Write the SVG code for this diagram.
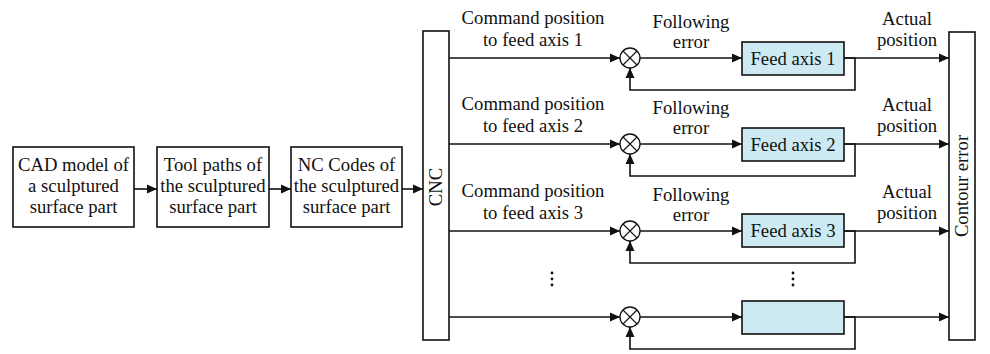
<svg xmlns="http://www.w3.org/2000/svg" width="990" height="354" viewBox="0 0 990 354">
<style>
text{font-family:"Liberation Serif","Times New Roman",serif;font-size:18.7px;fill:#111;text-anchor:middle}
.lb text{font-size:18.7px}
.b{fill:#fff;stroke:#111;stroke-width:1.6}
.f{fill:#cde9f1;stroke:#111;stroke-width:1.6}
.l{fill:none;stroke:#111;stroke-width:1.6}
.d{fill:#111}
</style>
<defs>
<marker id="a" viewBox="0 0 10 10" refX="10" refY="5" markerWidth="10" markerHeight="10" markerUnits="userSpaceOnUse" orient="auto">
<path d="M0,0.5 L10,5 L0,9.5 z" fill="#111"/>
</marker>
<g id="sum"><circle cx="0" cy="0" r="10" fill="#fff" stroke="#111" stroke-width="1.3"/><path d="M-7,-7 L7,7 M7,-7 L-7,7" stroke="#111" stroke-width="1.1"/></g>
</defs>
<rect width="990" height="354" fill="#fff"/>
<g id="cad" class="lb"><rect class="b" x="13" y="147" width="121" height="80"/><text x="73.5" y="171">CAD model of</text><text x="73.5" y="192">a sculptured</text><text x="73.5" y="213">surface part</text></g>
<g id="toolpaths" class="lb"><rect class="b" x="157" y="147" width="112" height="80"/><text x="213" y="171">Tool paths of</text><text x="213" y="192">the sculptured</text><text x="213" y="213">surface part</text></g>
<g id="nccodes" class="lb"><rect class="b" x="291" y="147" width="111" height="80"/><text x="346.5" y="171">NC Codes of</text><text x="346.5" y="192">the sculptured</text><text x="346.5" y="213">surface part</text></g>
<g id="cnc"><rect class="b" x="423" y="31" width="26" height="309"/><text transform="translate(442,187) rotate(-90)">CNC</text></g>
<g id="contour"><rect class="b" x="949" y="32" width="26" height="308"/><text transform="translate(968,186) rotate(-90)">Contour error</text></g>
<g id="feed1"><rect class="f" x="742" y="42" width="102" height="33"/><text x="793" y="65">Feed axis 1</text></g>
<g id="feed2"><rect class="f" x="742" y="128" width="102" height="33"/><text x="793" y="151">Feed axis 2</text></g>
<g id="feed3"><rect class="f" x="742" y="214" width="102" height="33"/><text x="793" y="237">Feed axis 3</text></g>
<g id="feedn"><rect class="f" x="742" y="301" width="102" height="33"/></g>
<g id="sum1"><use href="#sum" x="630" y="58"/></g>
<g id="sum2"><use href="#sum" x="630" y="144"/></g>
<g id="sum3"><use href="#sum" x="630" y="231"/></g>
<g id="sumn"><use href="#sum" x="630" y="317"/></g>
<g id="connectors" class="l" marker-end="url(#a)">
<path d="M134,189 H157"/>
<path d="M269,189 H291"/>
<path d="M402,189 H423"/>
<path d="M449,58 H620"/><path d="M640,58 H742"/><path d="M844,58 H949"/><path d="M844,58 H855 V90 H630 V68"/>
<path d="M449,144 H620"/><path d="M640,144 H742"/><path d="M844,144 H949"/><path d="M844,144 H855 V176 H630 V154"/>
<path d="M449,231 H620"/><path d="M640,231 H742"/><path d="M844,231 H949"/><path d="M844,231 H855 V263 H630 V241"/>
<path d="M449,317 H620"/><path d="M640,317 H742"/><path d="M844,317 H949"/><path d="M844,317 H855 V349 H630 V327"/>
</g>
<g id="labels">
<text x="533" y="24">Command position</text><text x="533" y="46">to feed axis 1</text>
<text x="691" y="28">Following</text><text x="691" y="48">error</text>
<text x="907" y="25">Actual</text><text x="907" y="46">position</text>
<text x="533" y="110">Command position</text><text x="533" y="132">to feed axis 2</text>
<text x="691" y="114">Following</text><text x="691" y="134">error</text>
<text x="907" y="111">Actual</text><text x="907" y="132">position</text>
<text x="533" y="197">Command position</text><text x="533" y="219">to feed axis 3</text>
<text x="691" y="201">Following</text><text x="691" y="221">error</text>
<text x="907" y="198">Actual</text><text x="907" y="219">position</text>
</g>
<g id="dots" class="d">
<circle cx="552" cy="273" r="1.4"/><circle cx="552" cy="279" r="1.4"/><circle cx="552" cy="285" r="1.4"/>
<circle cx="793" cy="273" r="1.4"/><circle cx="793" cy="279" r="1.4"/><circle cx="793" cy="285" r="1.4"/>
</g>
</svg>
